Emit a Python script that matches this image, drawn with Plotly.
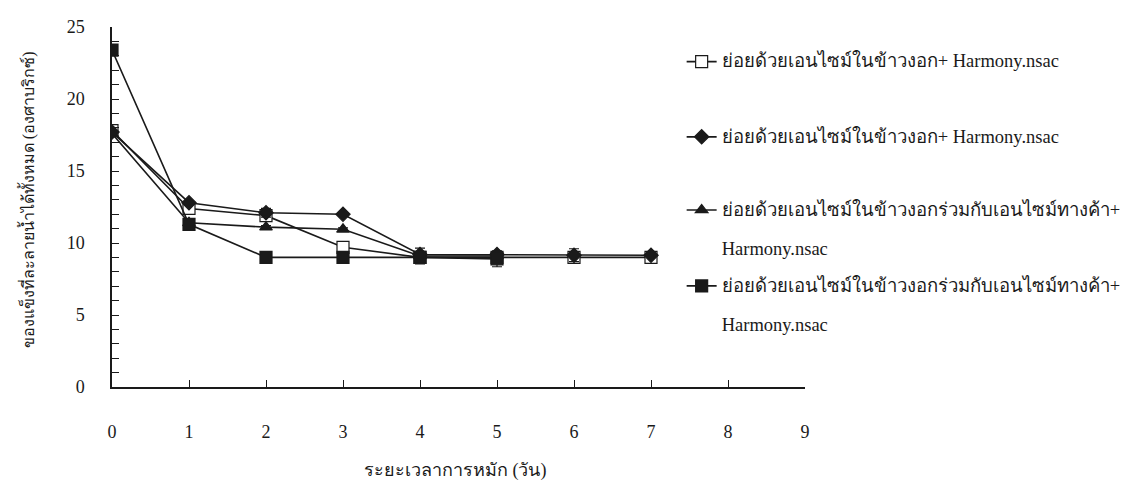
import plotly.graph_objects as go

days = [0, 1, 2, 3, 4, 5, 6, 7]
s1_vals = [17.8, 12.4, 11.9, 9.7, 9.0, 9.0, 9.0, 9.0]
s2_vals = [17.7, 12.8, 12.1, 12.0, 9.2, 9.2, 9.15, 9.15]
s3_days = [0, 1, 2, 3, 4, 5]
s3_vals = [17.6, 11.4, 11.1, 10.95, 9.1, 9.1]
s4_days = [0, 1, 2, 3, 4, 5]
s4_vals = [23.4, 11.3, 9.0, 9.0, 9.0, 8.9]

s1_err = [0.1, 0.1, 0.1, 0.1, 0.1, 0.1, 0.1, 0.1]
s2_err = [0.1, 0.1, 0.3, 0.1, 0.1, 0.1, 0.45, 0.1]
s3_err = [0.1, 0.1, 0.1, 0.1, 0.55, 0.1]
s4_err = [0.1, 0.1, 0.1, 0.1, 0.1, 0.55]

name_a_thai = "ย่อยด้วยเอนไซม์ในข้าวงอก+"
name_a_latin = " Harmony.nsac"
name_b_line1 = "ย่อยด้วยเอนไซม์ในข้าวงอกร่วมกับเอนไซม์ทางค้า+"
name_b_line2 = "Harmony.nsac"

x_ticks = [0, 1, 2, 3, 4, 5, 6, 7, 8, 9]
y_ticks = [0, 5, 10, 15, 20, 25]

x_title = "ระยะเวลาการหมัก (วัน)"
y_title = "ของแข็งที่ละลายน้ำได้ทั้งหมด (องศาบริกซ์)"

FONT = "Liberation Serif"
INK = "#1a1a1a"
BIG = '<span style="font-size:18.5px">{}</span>'
SERIF = '<span style="font-size:18.5px;font-family:Liberation Serif">{}</span>'

fig = go.Figure()

def add(xs, ys, name, symbol, color, size, err, legend):
    fig.add_trace(go.Scatter(
        x=xs, y=ys, name=name, mode="lines+markers",
        line=dict(color=INK, width=1.6),
        marker=dict(symbol=symbol, size=size, color=color,
                    line=dict(color=INK, width=1.2)),
        error_y=dict(type="data", array=err, color=INK, thickness=1.2, width=5),
        legend=legend,
    ))

name_a_html = BIG.format(name_a_thai) + SERIF.format(name_a_latin)
name_b_html = BIG.format(name_b_line1) + "<br><br>" + SERIF.format(name_b_line2)

add(days, s1_vals, name_a_html, "square", "white", 12, s1_err, "legend")
add(days, s2_vals, name_a_html, "diamond", INK, 11, s2_err, "legend2")
add(s3_days, s3_vals, name_b_html, "triangle-up", INK, 11, s3_err, "legend3")
add(s4_days, s4_vals, name_b_html, "square", INK, 12, s4_err, "legend4")

leg_common = dict(x=0.822, xanchor="left", yanchor="top", valign="top",
                  font=dict(size=15, family=FONT, color=INK),
                  bgcolor="rgba(0,0,0,0)")

fig.update_layout(
    width=1130, height=487,
    margin=dict(l=104, r=327, t=19, b=108),
    paper_bgcolor="white", plot_bgcolor="white",
    font=dict(family=FONT, size=18, color=INK),
    showlegend=True,
    legend=dict(y=0.949, **leg_common),
    legend2=dict(y=0.740, **leg_common),
    legend3=dict(y=0.537, **leg_common),
    legend4=dict(y=0.326, **leg_common),
    xaxis=dict(
        range=[0, 9], tickvals=x_ticks, ticktext=[str(v) for v in x_ticks],
        showline=True, linecolor=INK, linewidth=1.5,
        ticks="inside", ticklen=7, tickcolor=INK, tickwidth=1.3,
        showgrid=False, zeroline=False, ticklabelstandoff=28,
        automargin=False,
    ),
    yaxis=dict(
        range=[0, 25], tickvals=y_ticks,
        showline=True, linecolor=INK, linewidth=1.5,
        ticks="inside", ticklen=7, tickcolor=INK, tickwidth=1.3,
        minor=dict(dtick=1, ticks="inside", ticklen=7, tickcolor=INK, tickwidth=1.3),
        showgrid=False, zeroline=False, ticklabelstandoff=22,
        automargin=False,
    ),
    annotations=[
        dict(text=x_title, xref="paper", yref="paper", x=0.496, y=-0.231,
             xanchor="center", yanchor="middle", showarrow=False,
             font=dict(size=18, family=FONT, color=INK)),
        dict(text=y_title, xref="paper", yref="paper", x=-0.1216, y=0.103,
             xanchor="center", yanchor="bottom", showarrow=False, textangle=-90,
             font=dict(size=16, family=FONT, color=INK)),
    ],
)

fig.write_html("out.html")
